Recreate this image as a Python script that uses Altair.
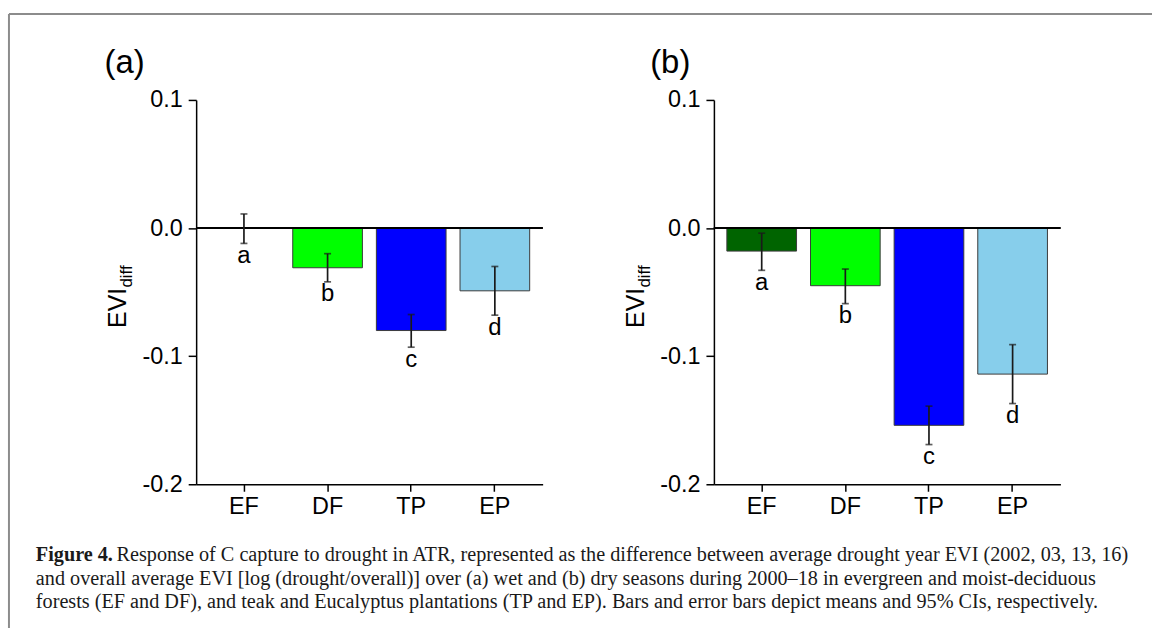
import altair as alt
import pandas as pd

# ---------------- data ----------------
categories = ["EF", "DF", "TP", "EP"]
letters = ["a", "b", "c", "d"]
bar_colors = ["#006400", "#00FF00", "#0000FF", "#87CEEB"]

wet_mean = [0.0, -0.031, -0.080, -0.049]
wet_low = [-0.012, -0.042, -0.093, -0.068]
wet_high = [0.011, -0.020, -0.0675, -0.030]

dry_mean = [-0.018, -0.045, -0.154, -0.114]
dry_low = [-0.033, -0.059, -0.169, -0.137]
dry_high = [-0.004, -0.032, -0.139, -0.091]

y_ticks = [0.1, 0.0, -0.1, -0.2]
panel_tags = ["(a)", "(b)"]
y_title_main = "EVI"
y_title_sub = "diff"

caption_bold = "Figure 4."
caption_lines = [
    "Response of C capture to drought in ATR, represented as the difference between average drought year EVI (2002, 03, 13, 16)",
    "and overall average EVI [log (drought/overall)] over (a) wet and (b) dry seasons during 2000\u201318 in evergreen and moist-deciduous",
    "forests (EF and DF), and teak and Eucalyptus plantations (TP and EP). Bars and error bars depict means and 95% CIs, respectively.",
]

# ---------------- style ----------------
W, H = 348, 386
FONT = "Liberation Sans"
SERIF = "Liberation Serif"
INK = "#1a1a1a"


def panel(mean, low, high, tag, tag_x, extras=None):
    df = pd.DataFrame({"cat": categories, "mean": mean, "low": low,
                       "high": high, "letter": letters})
    x = alt.X("cat:N", sort=categories,
              scale=alt.Scale(domain=categories, paddingInner=0.167, paddingOuter=0.155),
              axis=alt.Axis(title=None, labelAngle=0, labelFont=FONT,
                            labelFontSize=23.5, labelColor="black",
                            domainColor="black", domainWidth=1.5,
                            tickColor="black", tickWidth=1.5, tickSize=7,
                            labelPadding=3))
    yscale = alt.Scale(domain=[-0.2, 0.1], nice=False)
    yaxis = alt.Axis(title=None, values=y_ticks, grid=False,
                     labelExpr="datum.value < 0 ? '-' + format(-datum.value, '.1f') : format(datum.value, '.1f')",
                     labelFont=FONT, labelFontSize=23.5, labelColor="black",
                     domainColor="black", domainWidth=1.5, tickColor="black",
                     tickWidth=1.5, tickSize=8, labelPadding=6)
    base = alt.Chart(df)
    bars = base.mark_bar(stroke="#3a3a3a", strokeWidth=1).encode(
        x=x,
        y=alt.Y("mean:Q", scale=yscale, axis=yaxis),
        color=alt.Color("cat:N", scale=alt.Scale(domain=categories, range=bar_colors), legend=None),
    )
    zero = base.mark_rule(color="black", strokeWidth=1.5).encode(
        x=alt.value(0), x2=alt.value(W), y=alt.datum(0))
    err = base.mark_rule(color=INK, strokeWidth=1.7).encode(
        x=x, y="low:Q", y2="high:Q")
    cap_lo = base.mark_tick(color=INK, thickness=1.7, size=7).encode(x=x, y="low:Q")
    cap_hi = base.mark_tick(color=INK, thickness=1.7, size=7).encode(x=x, y="high:Q")
    lab = base.mark_text(baseline="top", dy=0.5, font=FONT, fontSize=24, color="black").encode(
        x=x, y="low:Q", text="letter:N")

    one = alt.Chart(pd.DataFrame({"t": [tag], "m": [y_title_main], "s": [y_title_sub]}))
    tag_t = one.mark_text(align="left", baseline="middle", font=FONT, fontSize=33, color="black").encode(
        x=alt.value(tag_x), y=alt.value(-37), text="t:N")
    evi = one.mark_text(align="left", baseline="alphabetic", angle=270, font=FONT, fontSize=25, color="black").encode(
        x=alt.value(-70), y=alt.value(229), text="m:N")
    sub = one.mark_text(align="left", baseline="alphabetic", angle=270, font=FONT, fontSize=17, color="black").encode(
        x=alt.value(-64), y=alt.value(188.5), text="s:N")

    layers = [bars, zero, err, cap_lo, cap_hi, lab, tag_t, evi, sub]
    if extras:
        layers += extras
    return alt.layer(*layers).properties(width=W, height=H)


# frame and caption (drawn relative to panel (a)'s plot area)
fr = alt.Chart(pd.DataFrame({"k": [0]}))
frame_top = fr.mark_rule(color="#8c8c8c", strokeWidth=2).encode(
    x=alt.value(-188), x2=alt.value(960), y=alt.value(-86.3))
frame_left = fr.mark_rule(color="#8c8c8c", strokeWidth=2).encode(
    x=alt.value(-188), y=alt.value(-86.3), y2=alt.value(532))

CAP_FS = 20.3
cap_df = pd.DataFrame({"t": [caption_bold]})
cap_bold = alt.Chart(cap_df).mark_text(align="left", baseline="alphabetic", font=SERIF,
                                       fontSize=CAP_FS, fontWeight="bold", color=INK).encode(
    x=alt.value(-161), y=alt.value(463.4), text="t:N")
line_y = [463.4, 486.7, 510.0]
line_x = [-80, -161, -161]
cap_rest = []
for i, s in enumerate(caption_lines):
    cap_rest.append(
        alt.Chart(pd.DataFrame({"t": [s]})).mark_text(
            align="left", baseline="alphabetic", font=SERIF, fontSize=CAP_FS, color=INK).encode(
            x=alt.value(line_x[i]), y=alt.value(line_y[i]), text="t:N"))

pa = panel(wet_mean, wet_low, wet_high, panel_tags[0], -92,
           extras=[frame_top, frame_left, cap_bold] + cap_rest)
pb = panel(dry_mean, dry_low, dry_high, panel_tags[1], -64)

chart = alt.hconcat(pa, pb, spacing=172, bounds="flush").properties(
    padding={"left": 8, "top": 11, "right": 0, "bottom": 0}
).configure_view(stroke=None).resolve_scale(color="independent")

chart.save("out.html", embed_options={"renderer": "svg", "actions": False})
